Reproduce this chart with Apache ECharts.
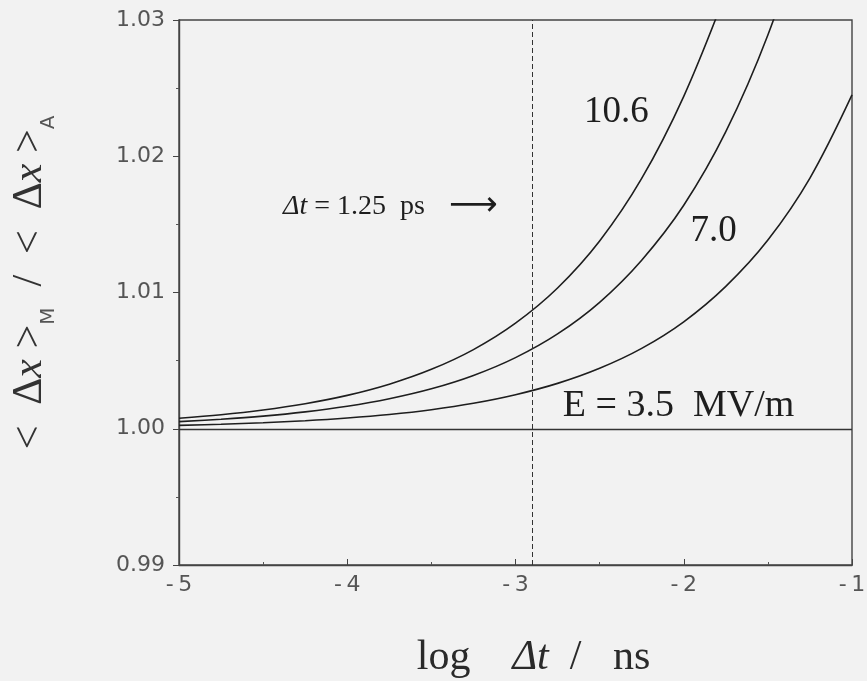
<!DOCTYPE html>
<html>
<head>
<meta charset="utf-8">
<title>Displacement ratio vs log Δt</title>
<script src="https://cdn.jsdelivr.net/npm/echarts@6/dist/echarts.min.js"></script>
<style>
  html, body { margin: 0; padding: 0; background: #f2f2f2; }
  #chart { width: 867px; height: 681px; }
</style>
</head>
<body>
<div id="chart"></div>
<script>
// log10 of the time step in ns
const logDt = [-5, -4.75, -4.5, -4.25, -4, -3.75, -3.5, -3.25, -3, -2.75, -2.5, -2.25, -2, -1.75, -1.5, -1.25, -1];

// <Δx>_M / <Δx>_A for three field strengths (MV/m)
const ratioE35  = [1.00025, 1.00033, 1.00044, 1.00059, 1.00079, 1.00105, 1.00140, 1.00187, 1.00250, 1.00333, 1.00444, 1.00590, 1.00785, 1.01045, 1.01385, 1.01840, 1.02450];
const ratioE70  = [1.00052, 1.00070, 1.00093, 1.00124, 1.00165, 1.00220, 1.00293, 1.00391, 1.00522, 1.00696, 1.00928, 1.01237, 1.01640, 1.02180, 1.02890, 1.03800, null];
const ratioE106 = [1.00077, 1.00103, 1.00138, 1.00184, 1.00245, 1.00327, 1.00436, 1.00581, 1.00775, 1.01033, 1.01378, 1.01837, 1.02440, 1.03200, null, null, null];

// axis ticks
const xTicks = [-5, -4, -3, -2, -1];
const yTicks = [0.99, 1.00, 1.01, 1.02, 1.03];

// reference lines: unity ratio and the 1.25 ps time step
const unityRatio = 1.0;
const markStepPs = 1.25;
const markStepLog = Math.log10(markStepPs / 1000);

// curve labels
const curveLabels = ['10.6', '7.0', 'E = 3.5  MV/m'];

const SERIF = '"Liberation Serif", "DejaVu Serif", serif';
const SANS = '"DejaVu Sans", sans-serif';
const INK = '#1e1e1e';

function pairs(ys) {
  return logDt.map((x, i) => [x, ys[i]]);
}

function curve(name, ys) {
  return {
    name: name,
    type: 'line',
    data: pairs(ys),
    showSymbol: false,
    symbol: 'none',
    smooth: 0.35,
    clip: true,
    connectNulls: false,
    lineStyle: { color: INK, width: 1.6 },
    silent: true,
    z: 3
  };
}

const chart = echarts.init(document.getElementById('chart'), null, { renderer: 'canvas' });

const option = {
  backgroundColor: '#f2f2f2',
  animation: false,
  grid: {
    left: 179, right: 15, top: 20, bottom: 116,
    containLabel: false,
    outerBoundsMode: 'none',
    show: true,
    borderColor: '#444',
    borderWidth: 1.4,
    backgroundColor: 'transparent'
  },
  xAxis: {
    type: 'value',
    min: xTicks[0],
    max: xTicks[xTicks.length - 1],
    interval: 1,
    axisLine: { show: true, lineStyle: { color: '#444', width: 1.4 } },
    axisTick: { show: true, inside: true, length: 6, lineStyle: { color: '#444' } },
    minorTick: { show: true, splitNumber: 2, length: 3, lineStyle: { color: '#555' } },
    splitLine: { show: false },
    axisLabel: {
      margin: 9,
      fontFamily: SANS,
      fontSize: 22,
      color: '#555',
      formatter: v => (v < 0 ? '-\u2009' + (-v) : String(v))
    },
    name: '{r|log}    {i|Δt}  {r|/}   {r|ns}',
    nameLocation: 'middle',
    nameGap: 72,
    nameTextStyle: {
      fontFamily: SERIF,
      fontSize: 42,
      color: '#2a2a2a',
      padding: [0, 0, 0, 36],
      rich: {
        r: { fontFamily: SERIF, fontSize: 42, color: '#2a2a2a' },
        i: { fontFamily: SERIF, fontSize: 42, fontStyle: 'italic', color: '#2a2a2a' }
      }
    }
  },
  yAxis: {
    type: 'value',
    min: yTicks[0],
    max: yTicks[yTicks.length - 1],
    interval: 0.01,
    axisLine: { show: true, lineStyle: { color: '#444', width: 1.4 } },
    axisTick: { show: true, inside: false, length: 6, lineStyle: { color: '#444' } },
    minorTick: { show: true, splitNumber: 2, length: 3, lineStyle: { color: '#555' } },
    splitLine: { show: false },
    axisLabel: {
      margin: 14,
      fontFamily: SANS,
      fontSize: 22,
      color: '#555',
      formatter: v => v.toFixed(2)
    },
    name: '{r|<  Δ}{i|x}{r| >}{s|M}{r|  /  <  Δ}{i|x}{r| >}{s|A}',
    nameLocation: 'middle',
    nameRotate: 90,
    nameGap: 120,
    nameTextStyle: {
      fontFamily: SERIF,
      fontSize: 42,
      color: '#333',
      padding: [0, 0, 0, 20],
      rich: {
        r: { fontFamily: SERIF, fontSize: 42, color: '#333', lineHeight: 58, verticalAlign: 'middle' },
        i: { fontFamily: SERIF, fontSize: 42, fontStyle: 'italic', color: '#333', lineHeight: 58, verticalAlign: 'middle' },
        s: { fontFamily: SANS, fontSize: 20, color: '#555', lineHeight: 20, verticalAlign: 'bottom' }
      }
    }
  },
  series: [
    curve('E = 3.5 MV/m', ratioE35),
    curve('E = 7.0 MV/m', ratioE70),
    curve('E = 10.6 MV/m', ratioE106),
    {
      name: 'reference lines',
      type: 'line',
      data: [],
      silent: true,
      markLine: {
        silent: true,
        symbol: 'none',
        label: { show: false },
        data: [
          { yAxis: unityRatio, lineStyle: { color: '#333', width: 1.3, type: 'solid' } },
          { xAxis: markStepLog, lineStyle: { color: '#333', width: 1, type: [5, 3] } }
        ]
      }
    }
  ]
};

chart.setOption(option);

// Place the text annotations at data coordinates
function at(x, y) {
  return chart.convertToPixel({ gridIndex: 0 }, [x, y]);
}

const pLbl106 = at(-2.40, 1.0232);
const pLbl70 = at(-1.823, 1.0145);
const pLbl35 = at(-2.031, 1.0017);
const pStep = at(-4.382, 1.0163);

chart.setOption({
  graphic: [
    {
      type: 'text', x: pLbl106[0], y: pLbl106[1], silent: true, z: 10,
      style: { text: curveLabels[0], font: '37px ' + SERIF, fill: INK, align: 'center', verticalAlign: 'middle' }
    },
    {
      type: 'text', x: pLbl70[0], y: pLbl70[1], silent: true, z: 10,
      style: { text: curveLabels[1], font: '37px ' + SERIF, fill: INK, align: 'center', verticalAlign: 'middle' }
    },
    {
      type: 'text', x: pLbl35[0], y: pLbl35[1], silent: true, z: 10,
      style: { text: curveLabels[2], font: '38px ' + SERIF, fill: INK, align: 'center', verticalAlign: 'middle' }
    },
    {
      type: 'text', x: pStep[0], y: pStep[1], silent: true, z: 10,
      style: {
        text: '{i|Δt}{r| = ' + markStepPs + '  ps}{a|⟶}',
        align: 'left', verticalAlign: 'middle',
        rich: {
          i: { fontFamily: SERIF, fontSize: 28, fontStyle: 'italic', fill: INK },
          r: { fontFamily: SERIF, fontSize: 28, fill: INK },
          a: { fontFamily: SANS, fontSize: 34, fill: INK, padding: [0, 0, 0, 24] }
        }
      }
    }
  ]
});
</script>
</body>
</html>
